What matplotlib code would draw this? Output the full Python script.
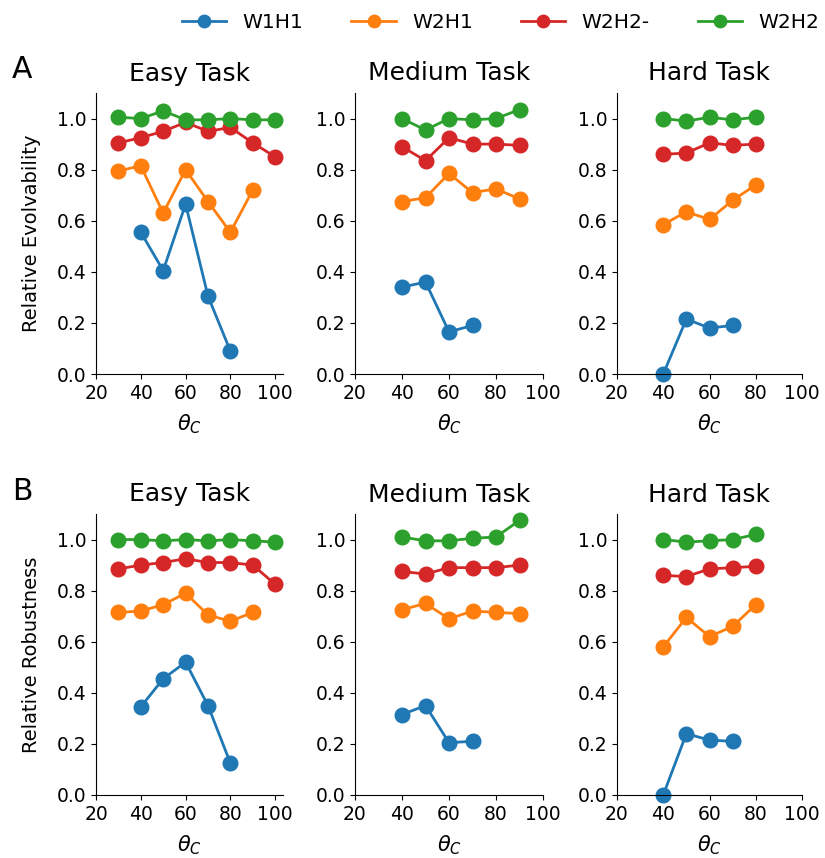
import matplotlib
matplotlib.use("Agg")
import matplotlib.pyplot as plt

tasks = ["Easy Task", "Medium Task", "Hard Task"]
series = ["W1H1", "W2H1", "W2H2-", "W2H2"]
colors = ["#1f77b4", "#ff7f0e", "#d62728", "#2ca02c"]

# theta_C values per task and series
x_easy = {"W1H1": [40, 50, 60, 70, 80],
          "W2H1": [30, 40, 50, 60, 70, 80, 90],
          "W2H2-": [30, 40, 50, 60, 70, 80, 90, 100],
          "W2H2": [30, 40, 50, 60, 70, 80, 90, 100]}
x_medium = {"W1H1": [40, 50, 60, 70],
            "W2H1": [40, 50, 60, 70, 80, 90],
            "W2H2-": [40, 50, 60, 70, 80, 90],
            "W2H2": [40, 50, 60, 70, 80, 90]}
x_hard = {"W1H1": [40, 50, 60, 70],
          "W2H1": [40, 50, 60, 70, 80],
          "W2H2-": [40, 50, 60, 70, 80],
          "W2H2": [40, 50, 60, 70, 80]}

# Relative evolvability (row A)
evo_easy = {"W1H1": [0.555, 0.405, 0.665, 0.305, 0.09],
            "W2H1": [0.795, 0.815, 0.63, 0.80, 0.675, 0.555, 0.72],
            "W2H2-": [0.905, 0.925, 0.95, 0.985, 0.95, 0.965, 0.905, 0.85],
            "W2H2": [1.005, 1.0, 1.03, 0.995, 0.995, 1.0, 0.995, 0.995]}
evo_medium = {"W1H1": [0.34, 0.36, 0.165, 0.19],
              "W2H1": [0.675, 0.69, 0.785, 0.71, 0.725, 0.685],
              "W2H2-": [0.89, 0.835, 0.925, 0.90, 0.90, 0.895],
              "W2H2": [1.0, 0.955, 1.0, 0.995, 1.0, 1.035]}
evo_hard = {"W1H1": [0.0, 0.215, 0.18, 0.19],
            "W2H1": [0.585, 0.635, 0.605, 0.68, 0.74],
            "W2H2-": [0.86, 0.865, 0.905, 0.895, 0.90],
            "W2H2": [1.0, 0.99, 1.005, 0.995, 1.005]}

# Relative robustness (row B)
rob_easy = {"W1H1": [0.345, 0.455, 0.52, 0.35, 0.125],
            "W2H1": [0.715, 0.72, 0.745, 0.79, 0.705, 0.68, 0.715],
            "W2H2-": [0.885, 0.90, 0.91, 0.925, 0.91, 0.91, 0.90, 0.825],
            "W2H2": [1.0, 1.0, 0.995, 1.0, 0.995, 1.0, 0.995, 0.99]}
rob_medium = {"W1H1": [0.315, 0.35, 0.205, 0.21],
              "W2H1": [0.725, 0.75, 0.69, 0.72, 0.715, 0.71],
              "W2H2-": [0.875, 0.865, 0.89, 0.89, 0.89, 0.90],
              "W2H2": [1.01, 0.995, 0.995, 1.005, 1.01, 1.075]}
rob_hard = {"W1H1": [0.0, 0.24, 0.215, 0.21],
            "W2H1": [0.58, 0.695, 0.62, 0.66, 0.745],
            "W2H2-": [0.86, 0.855, 0.885, 0.89, 0.895],
            "W2H2": [1.0, 0.99, 0.995, 1.0, 1.02]}

xs = [x_easy, x_medium, x_hard]
rows = [[evo_easy, evo_medium, evo_hard], [rob_easy, rob_medium, rob_hard]]
ylabels = ["Relative Evolvability", "Relative Robustness"]
letters = ["A", "B"]

fig = plt.figure(figsize=(8.25, 8.58), dpi=100)
lefts = [96 / 825, 355 / 825, 617 / 825]
widths = [187 / 825, 188 / 825, 185 / 825]
bottoms = [1 - 374 / 858, 1 - 795 / 858]
height = 281 / 858
xmax = [103.5, 100, 100]

handles = []
for r in range(2):
    for c in range(3):
        ax = fig.add_axes([lefts[c], bottoms[r], widths[c], height])
        for name, col in zip(series, colors):
            h, = ax.plot(xs[c][name], rows[r][c][name], "-o", color=col,
                         lw=2, ms=10.5, label=name, clip_on=False)
            if r == 0 and c == 0:
                handles.append(h)
        ax.set_xlim(20, xmax[c])
        ax.set_ylim(0, 1.1)
        ax.set_xticks([20, 40, 60, 80, 100])
        ax.set_yticks([0.0, 0.2, 0.4, 0.6, 0.8, 1.0])
        ax.spines["top"].set_visible(False)
        ax.spines["right"].set_visible(False)
        ax.tick_params(labelsize=13.5)
        ax.set_title(tasks[c], fontsize=18, pad=9)
        ax.set_xlabel(r"$\theta_C$", fontsize=15, labelpad=7)
        if c == 0:
            ax.set_ylabel(ylabels[r], fontsize=14, labelpad=11)

for r in range(2):
    fig.text(12 / 825, 1 - (70 + 421 * r) / 858, letters[r], fontsize=21.5,
             va="center")

fig.legend(handles=handles, loc="upper right", ncol=4, frameon=False,
           fontsize=14.5, bbox_to_anchor=(1.015, 1.006), columnspacing=2.4,
           handlelength=2.2, markerscale=0.85)

fig.savefig("out.png", dpi=100)
